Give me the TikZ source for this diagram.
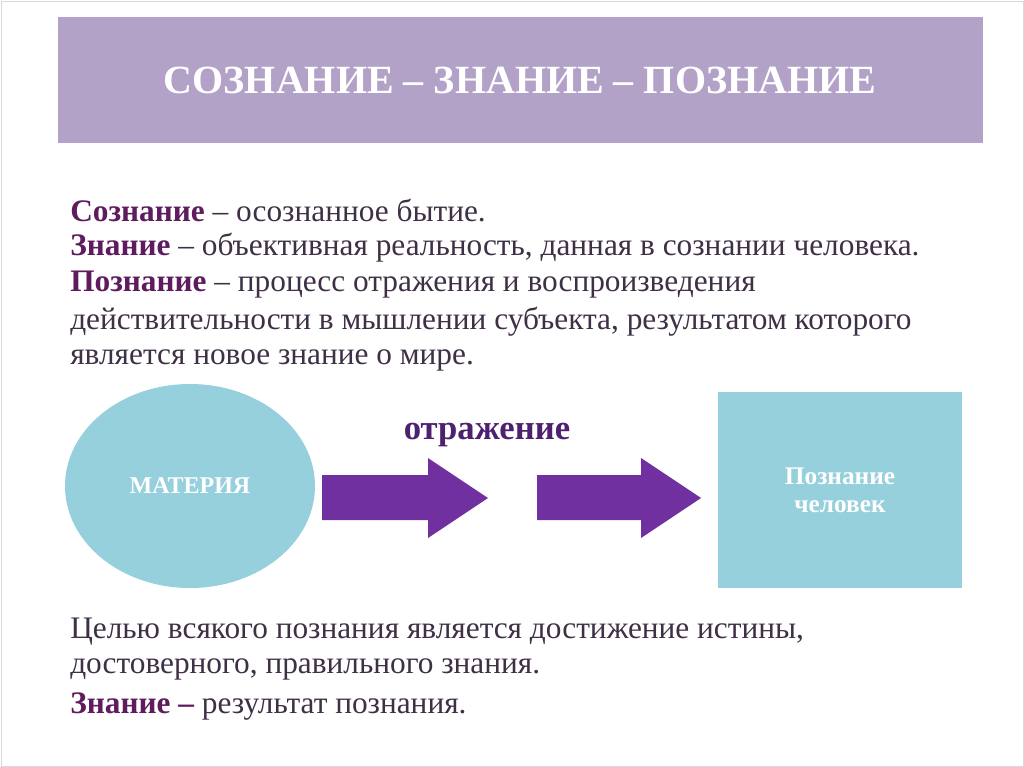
\documentclass[tikz,border=0pt]{standalone}
\usepackage{fontspec}
\setmainfont{Liberation Serif}
\usetikzlibrary{shapes.geometric}
\definecolor{titlebg}{HTML}{B3A2C8}
\definecolor{termcol}{HTML}{5E1B5E}
\definecolor{bodycol}{HTML}{3F3045}
\definecolor{skyblue}{HTML}{97D0DD}
\definecolor{arrowcol}{HTML}{7030A0}
\definecolor{labelcol}{HTML}{4E2070}
\newlength{\px}\setlength{\px}{0.75pt}
\tikzset{
  bodytext/.style={anchor=west,inner sep=0pt,text=bodycol,font=\fontsize{23.5}{28}\selectfont},
}
\newcommand{\term}[1]{\textbf{\textcolor{termcol}{#1}}}
% block arrow: start x, end x
\newcommand{\blockarrow}[2]{%
  \fill[arrowcol] (#1,475) -- ({#2-60},475) -- ({#2-60},458) -- (#2,498)
    -- ({#2-60},538) -- ({#2-60},520) -- (#1,520) -- cycle;}
\begin{document}
\begin{tikzpicture}[x=0.75pt,y=-0.75pt]
  \useasboundingbox[fill=white] (0,0) rectangle (1024,767);
  \draw[black!15] (1,1) rectangle (1023,766);

  % title band
  \fill[titlebg] (58,17) rectangle (983,143);
  \node[text=white,font=\fontsize{30}{34}\selectfont\bfseries] (title) at (520,80)
    {СОЗНАНИЕ – ЗНАНИЕ – ПОЗНАНИЕ};

  % definitions
  \node[bodytext] (d1) at (70,211) {\term{Сознание} – осознанное бытие.};
  \node[bodytext] (d2) at (70,248) {\term{Знание} – объективная реальность, данная в сознании человека.};
  \node[bodytext] (d3) at (70,285) {\term{Познание} – процесс отражения и воспроизведения};
  \node[bodytext] (d4) at (70,322) {действительности в мышлении субъекта, результатом которого};
  \node[bodytext] (d5) at (70,360) {является новое знание о мире.};

  % scheme
  \node[ellipse,fill=skyblue,minimum width=250\px,minimum height=204\px,text=white,
    font=\fontsize{18}{22}\selectfont\bfseries] (matter) at (190,486) {МАТЕРИЯ};
  \blockarrow{322}{488}
  \blockarrow{537}{701}
  \node[text=labelcol,font=\fontsize{26}{30}\selectfont\bfseries] (refl) at (487,435) {отражение};
  \node[rectangle,fill=skyblue,minimum width=244\px,minimum height=196\px,text=white,align=center,
    font=\fontsize{19}{21}\selectfont\bfseries] (cogn) at (840,490) {Познание\\человек};

  % conclusion
  \node[bodytext] (c1) at (70,632) {Целью всякого познания является достижение истины,};
  \node[bodytext] (c2) at (70,669) {достоверного, правильного знания.};
  \node[bodytext] (c3) at (70,706) {\term{Знание –} результат познания.};
\end{tikzpicture}
\end{document}
